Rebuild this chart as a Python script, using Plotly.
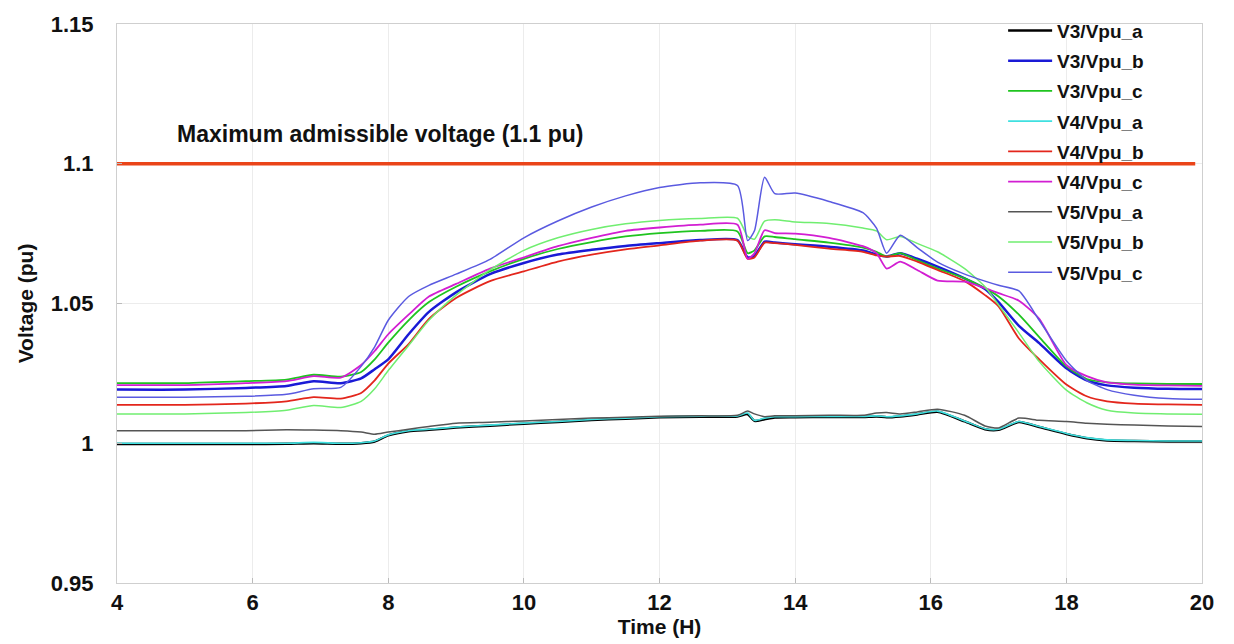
import plotly.graph_objects as go

# ---- data ----
T = [4.0, 5.0, 5.9, 6.5, 6.9, 7.3, 7.6, 7.8, 8.0, 8.3, 8.6, 9.0, 9.5, 10.0, 10.5,
     11.0, 11.5, 12.0, 12.6, 13.15, 13.3, 13.4, 13.55, 13.7, 14.0, 14.5, 15.0,
     15.2, 15.35, 15.55, 15.8, 16.1, 16.5, 16.8, 17.0, 17.3, 17.6, 18.0, 18.3,
     18.6, 19.0, 19.5, 20.0]

V3_a = [0.9997, 0.9997, 0.9997, 0.9998, 1.0000, 0.9998, 1.0000, 1.0006, 1.0028, 1.0043,
        1.0048, 1.0056, 1.0063, 1.0070, 1.0076, 1.0083, 1.0088, 1.0093, 1.0095, 1.0096,
        1.0104, 1.0080, 1.0086, 1.0092, 1.0093, 1.0094, 1.0094, 1.0096, 1.0093, 1.0096,
        1.0103, 1.0113, 1.0078, 1.0050, 1.0048, 1.0076, 1.0058, 1.0033, 1.0018, 1.0010,
        1.0008, 1.0006, 1.0006]
V3_b = [1.0192, 1.0192, 1.0198, 1.0205, 1.0222, 1.0215, 1.0232, 1.0265, 1.0300, 1.0390,
        1.0470, 1.0540, 1.0605, 1.0645, 1.0675, 1.0692, 1.0706, 1.0716, 1.0727, 1.0727,
        1.0665, 1.0670, 1.0721, 1.0718, 1.0712, 1.0703, 1.0690, 1.0675, 1.0668, 1.0680,
        1.0660, 1.0632, 1.0590, 1.0552, 1.0505, 1.0420, 1.0358, 1.0268, 1.0225, 1.0207,
        1.0199, 1.0195, 1.0194]
V3_c = [1.0215, 1.0215, 1.0222, 1.0228, 1.0245, 1.0238, 1.0255, 1.0300, 1.0360, 1.0440,
        1.0505, 1.0560, 1.0615, 1.0660, 1.0695, 1.0720, 1.0740, 1.0752, 1.0760, 1.0758,
        1.0680, 1.0690, 1.0740, 1.0738, 1.0730, 1.0718, 1.0700, 1.0685, 1.0668, 1.0680,
        1.0655, 1.0625, 1.0590, 1.0555, 1.0525, 1.0460, 1.0380, 1.0275, 1.0230, 1.0218,
        1.0214, 1.0212, 1.0212]
V4_a = [1.0000, 1.0000, 1.0000, 1.0000, 1.0003, 1.0000, 1.0002, 1.0008, 1.0030, 1.0045,
        1.0050, 1.0058, 1.0065, 1.0072, 1.0078, 1.0085, 1.0090, 1.0095, 1.0097, 1.0098,
        1.0108, 1.0082, 1.0090, 1.0095, 1.0095, 1.0096, 1.0096, 1.0098, 1.0095, 1.0098,
        1.0105, 1.0115, 1.0080, 1.0052, 1.0050, 1.0078, 1.0060, 1.0035, 1.0020, 1.0012,
        1.0010, 1.0008, 1.0008]
V4_b = [1.0137, 1.0137, 1.0142, 1.0150, 1.0165, 1.0160, 1.0180, 1.0225, 1.0285, 1.0355,
        1.0445, 1.0520, 1.0580, 1.0615, 1.0650, 1.0675, 1.0694, 1.0708, 1.0725, 1.0725,
        1.0660, 1.0665, 1.0718, 1.0716, 1.0710, 1.0696, 1.0685, 1.0672, 1.0668, 1.0670,
        1.0650, 1.0620, 1.0580, 1.0530, 1.0490, 1.0375, 1.0300, 1.0210, 1.0168, 1.0150,
        1.0142, 1.0139, 1.0137]
V4_c = [1.0208, 1.0208, 1.0215, 1.0222, 1.0240, 1.0235, 1.0280, 1.0330, 1.0390, 1.0460,
        1.0525, 1.0570, 1.0625, 1.0665, 1.0705, 1.0735, 1.0760, 1.0772, 1.0782, 1.0782,
        1.0660, 1.0680, 1.0762, 1.0752, 1.0750, 1.0735, 1.0705, 1.0680, 1.0625, 1.0650,
        1.0620, 1.0582, 1.0578, 1.0555, 1.0537, 1.0510, 1.0445, 1.0280, 1.0240, 1.0218,
        1.0210, 1.0207, 1.0205]
V5_a = [1.0045, 1.0045, 1.0045, 1.0048, 1.0047, 1.0045, 1.0040, 1.0032, 1.0040, 1.0050,
        1.0060, 1.0072, 1.0075, 1.0080, 1.0085, 1.0090, 1.0093, 1.0097, 1.0098, 1.0100,
        1.0115, 1.0105, 1.0095, 1.0098, 1.0098, 1.0100, 1.0100, 1.0108, 1.0110, 1.0105,
        1.0112, 1.0122, 1.0100, 1.0062, 1.0055, 1.0090, 1.0082, 1.0078, 1.0072, 1.0068,
        1.0065, 1.0062, 1.0060]
V5_b = [1.0105, 1.0105, 1.0110, 1.0118, 1.0135, 1.0128, 1.0150, 1.0195, 1.0260, 1.0350,
        1.0440, 1.0530, 1.0620, 1.0690, 1.0735, 1.0765, 1.0785, 1.0797, 1.0804, 1.0805,
        1.0740, 1.0730, 1.0795, 1.0800, 1.0792, 1.0786, 1.0770, 1.0760, 1.0728, 1.0740,
        1.0715, 1.0685, 1.0625, 1.0560, 1.0495, 1.0395, 1.0292, 1.0190, 1.0145, 1.0118,
        1.0108, 1.0105, 1.0104]
V5_c = [1.0165, 1.0165, 1.0168, 1.0175, 1.0195, 1.0200, 1.0275, 1.0345, 1.0440, 1.0525,
        1.0565, 1.0605, 1.0658, 1.0735, 1.0795, 1.0845, 1.0885, 1.0915, 1.0932, 1.0922,
        1.0725, 1.0760, 1.0952, 1.0893, 1.0895, 1.0865, 1.0825, 1.0770, 1.0680, 1.0744,
        1.0700, 1.0648, 1.0605, 1.0580, 1.0565, 1.0545, 1.0440, 1.0295, 1.0225, 1.0192,
        1.0172, 1.0160, 1.0157]

LIMIT_X = [4.0, 19.9]
LIMIT_Y = [1.1, 1.1]
LIMIT_LABEL = "Maximum admissible voltage (1.1 pu)"

NAMES = ["V3/Vpu_a", "V3/Vpu_b", "V3/Vpu_c", "V4/Vpu_a", "V4/Vpu_b",
         "V4/Vpu_c", "V5/Vpu_a", "V5/Vpu_b", "V5/Vpu_c"]
SERIES = [V3_a, V3_b, V3_c, V4_a, V4_b, V4_c, V5_a, V5_b, V5_c]
COLORS = ["#000000", "#1a1ad6", "#1fc41f", "#3fe0e0", "#e3261c",
          "#d21ed2", "#555555", "#70ee70", "#5a5ae0"]
WIDTHS = [2.5, 2.5, 1.8, 1.6, 1.8, 1.8, 1.5, 1.5, 1.5]
Y_TICKS = [0.95, 1.0, 1.05, 1.1, 1.15]
Y_TICKTEXT = ["0.95", "1", "1.05", "1.1", "1.15"]
X_TICKS = [4, 6, 8, 10, 12, 14, 16, 18, 20]

FONT = "Liberation Sans, Arial, sans-serif"

fig = go.Figure()
fig.add_trace(go.Scatter(x=LIMIT_X, y=LIMIT_Y, mode="lines", showlegend=False,
                         line=dict(color="#ea4419", width=3.5), hoverinfo="skip"))
for name, vals, col, w in zip(NAMES, SERIES, COLORS, WIDTHS):
    fig.add_trace(go.Scatter(x=T, y=vals, mode="lines", name=name, legendgroup=name,
                             line=dict(color=col, width=w, shape="spline", smoothing=0.6)))

fig.add_annotation(x=4.86, y=1.1106, xref="x", yref="y", text=f"<b>{LIMIT_LABEL}</b>",
                   showarrow=False, xanchor="left", yanchor="middle",
                   font=dict(family=FONT, size=23, color="#111111"))

fig.update_layout(
    width=1234, height=644,
    margin=dict(l=117, r=32, t=19, b=61),
    paper_bgcolor="white", plot_bgcolor="white",
    font=dict(family=FONT, color="#111111"),
    legend=dict(x=0.8167, y=1.022, xanchor="left", yanchor="top", itemwidth=44,
                tracegroupgap=2.5,
                bgcolor="rgba(255,255,255,0)", borderwidth=0,
                font=dict(family=FONT, size=19, color="#111111", weight="bold")),
    xaxis=dict(range=[4, 20], tickvals=X_TICKS, showgrid=True, gridcolor="#ececec",
               zeroline=False, showline=True, linecolor="#cfcfcf", linewidth=1, mirror=True,
               ticks="inside", ticklen=5, tickcolor="#bbbbbb",
               tickfont=dict(family=FONT, size=22, color="#111111", weight="bold"),
               title=dict(text="<b>Time (H)</b>", font=dict(family=FONT, size=21, color="#111111"),
                          standoff=2)),
    yaxis=dict(range=[0.95, 1.15], tickvals=Y_TICKS, ticktext=Y_TICKTEXT, showgrid=True,
               gridcolor="#ececec", zeroline=False, showline=True, linecolor="#cfcfcf",
               linewidth=1, mirror=True, ticks="inside", ticklen=5, tickcolor="#bbbbbb",
               ticklabelstandoff=18,
               tickfont=dict(family=FONT, size=22, color="#111111", weight="bold"),
               title=dict(text="<b>Voltage (pu)</b>", font=dict(family=FONT, size=21, color="#111111"),
                          standoff=11)),
)

fig.write_html("out.html", config={"displayModeBar": False},
               post_script="document.body.style.margin='0';")
